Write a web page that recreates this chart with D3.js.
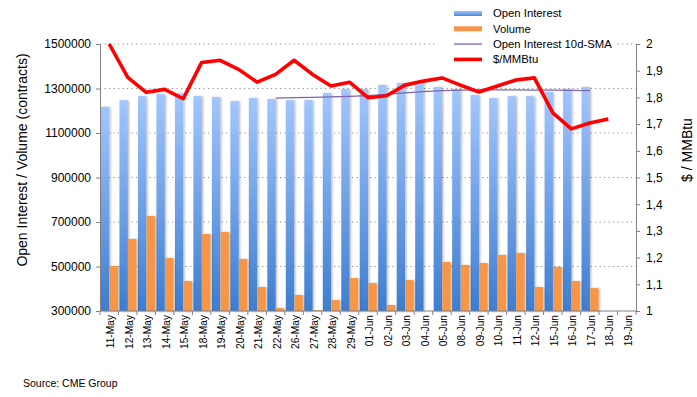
<!DOCTYPE html>
<html><head><meta charset="utf-8">
<script src="https://cdn.jsdelivr.net/npm/d3@7"></script>
<style>body{margin:0;background:#fff} svg{display:block;font-family:"Liberation Sans",Arial,sans-serif}</style>
</head><body><svg id="c" width="697" height="397"></svg>
<script>
const categories = ["11-May","12-May","13-May","14-May","15-May","18-May","19-May","20-May","21-May","22-May","26-May","27-May","28-May","29-May","01-Jun","02-Jun","03-Jun","04-Jun","05-Jun","08-Jun","09-Jun","10-Jun","11-Jun","12-Jun","15-Jun","16-Jun","17-Jun","18-Jun","19-Jun"];
const openInterest = [1218000,1247000,1266000,1275000,1278000,1266000,1262000,1244000,1257000,1253000,1248000,1248000,1280000,1298000,1298000,1316000,1325000,1329000,1307000,1298000,1271000,1257000,1266000,1266000,1284000,1298000,1307000,null,null];
const volume = [502000,624000,727000,538000,435000,646000,655000,534000,408000,313000,372000,304000,349000,448000,426000,327000,439000,null,520000,507000,516000,552000,561000,408000,498000,435000,403000,null,null];
const sma10 = [null,null,null,null,null,null,null,null,null,1257000,1259000,1260000,1262000,1265000,1268000,1274000,1280000,1286000,1290000,1293000,1294000,1294000,1294000,1293000,1293000,1292000,1290000,null,null];
const price = [2.0,1.875,1.819,1.830,1.795,1.931,1.939,1.905,1.857,1.886,1.939,1.886,1.843,1.857,1.799,1.806,1.846,1.861,1.873,1.846,1.820,1.843,1.865,1.873,1.742,1.682,1.704,1.719,null];
const leftTicks = [300000,500000,700000,900000,1100000,1300000,1500000];
const rightTicks = [1,1.1,1.2,1.3,1.4,1.5,1.6,1.7,1.8,1.9,2];
const rightTickLabels = ["1","1,1","1,2","1,3","1,4","1,5","1,6","1,7","1,8","1,9","2"];

const svg = d3.select("#c");
const L = 100, R = 636, T = 44, B = 311;
const x = d3.scaleBand().domain(categories).range([L, R]);
const bw = x.bandwidth();
const x1 = d3.scaleBand().domain(["oi","vol"]).range([1, bw - 0.5]).paddingInner(0.04);
const yL = d3.scaleLinear().domain([300000, 1500000]).range([B, T]);
const yR = d3.scaleLinear().domain([1, 2]).range([B, T]);

const defs = svg.append("defs");
const g1 = defs.append("linearGradient").attr("id","blueG").attr("x1",0).attr("y1",0).attr("x2",0).attr("y2",1);
g1.append("stop").attr("offset","0%").attr("stop-color","#a2c6fd");
g1.append("stop").attr("offset","100%").attr("stop-color","#3d7dd0");
const g2 = defs.append("linearGradient").attr("id","blueH").attr("x1",0).attr("y1",0).attr("x2",0).attr("y2",1);
g2.append("stop").attr("offset","0%").attr("stop-color","#a2c6fd");
g2.append("stop").attr("offset","100%").attr("stop-color","#4a86d6");
const f = defs.append("filter").attr("id","sh").attr("x","-20%").attr("y","-5%").attr("width","160%").attr("height","110%");
f.append("feDropShadow").attr("dx",1.2).attr("dy",0.5).attr("stdDeviation",0.8).attr("flood-color","#000").attr("flood-opacity",0.3);

// grid
svg.append("g").selectAll("line").data(leftTicks.filter(d => d > 300000)).join("line")
  .attr("x1", L).attr("x2", R).attr("y1", d => yL(d)).attr("y2", d => yL(d))
  .attr("stroke", "#8c8c8c").attr("stroke-width", 1).attr("stroke-dasharray", "1.2,3.3");

// bars
const bars = svg.append("g");
bars.selectAll("rect.oi").data(categories.map((c,i) => ({c, v: openInterest[i]})).filter(d => d.v != null)).join("rect")
  .attr("x", d => x(d.c) + x1("oi")).attr("width", x1.bandwidth())
  .attr("y", d => yL(d.v)).attr("height", d => B - yL(d.v))
  .attr("fill", "url(#blueG)").attr("filter", "url(#sh)");
bars.selectAll("rect.vol").data(categories.map((c,i) => ({c, v: volume[i]})).filter(d => d.v != null)).join("rect")
  .attr("x", d => x(d.c) + x1("vol")).attr("width", x1.bandwidth())
  .attr("y", d => yL(d.v)).attr("height", d => B - yL(d.v))
  .attr("fill", "#f79646").attr("filter", "url(#sh)");

// SMA line
const smaLine = d3.line().defined(d => d.v != null).x(d => x(d.c) + bw/2).y(d => yL(d.v));
svg.append("path").datum(categories.map((c,i) => ({c, v: sma10[i]})))
  .attr("d", smaLine).attr("fill","none").attr("stroke","#7d63b0").attr("stroke-width",1.3);

// price line
const pLine = d3.line().defined(d => d.v != null).x(d => x(d.c) + bw/2).y(d => yR(d.v));
svg.append("path").datum(categories.map((c,i) => ({c, v: price[i]})))
  .attr("d", pLine).attr("fill","none").attr("stroke","#ff0000").attr("stroke-width",3.6).attr("stroke-linejoin","round");

// left axis
const ax = svg.append("g").attr("transform", `translate(${L},0)`)
  .call(d3.axisLeft(yL).tickValues(leftTicks).tickSize(4).tickSizeOuter(0).tickPadding(5).tickFormat(d3.format("d")));
ax.select(".domain").attr("stroke","#808080");
ax.selectAll(".tick line").attr("stroke","#808080");
ax.selectAll("text").attr("font-size","12px").attr("fill","#000").attr("font-family","Liberation Sans, Arial, sans-serif");

// right axis
const ar = svg.append("g").attr("transform", `translate(${R},0)`)
  .call(d3.axisRight(yR).tickValues(rightTicks).tickSize(4).tickSizeOuter(0).tickPadding(6).tickFormat((d,i) => rightTickLabels[i]));
ar.select(".domain").attr("stroke","#808080");
ar.selectAll(".tick line").attr("stroke","#808080");
ar.selectAll("text").attr("font-size","12px").attr("fill","#000").attr("font-family","Liberation Sans, Arial, sans-serif");

// bottom axis
const bx = svg.append("g");
bx.append("line").attr("x1", L).attr("x2", R).attr("y1", B).attr("y2", B).attr("stroke","#808080");
bx.selectAll("line.t").data(categories.concat(["_end"])).join("line")
  .attr("x1", d => d === "_end" ? R : x(d)).attr("x2", d => d === "_end" ? R : x(d))
  .attr("y1", B).attr("y2", B + 4).attr("stroke","#808080");
bx.selectAll("text").data(categories).join("text")
  .attr("transform", d => `translate(${x(d) + bw/2 + 1.5},${B + 4}) rotate(-90)`)
  .attr("text-anchor","end").attr("dy","0.35em").attr("font-size","10.2px").attr("fill","#000")
  .text(d => d);

// axis titles
svg.append("text").attr("transform","translate(27,160) rotate(-90)").attr("text-anchor","middle")
  .attr("font-size","14px").attr("fill","#000").text("Open Interest / Volume (contracts)");
svg.append("text").attr("transform","translate(692,150) rotate(-90)").attr("text-anchor","middle")
  .attr("font-size","14px").attr("fill","#000").text("$ / MMBtu");

// legend
const leg = svg.append("g");
leg.append("rect").attr("x",437).attr("y",0).attr("width",178).attr("height",70).attr("fill","#fff");
const items = [
  {t:"Open Interest", k:"oi"},
  {t:"Volume", k:"vol"},
  {t:"Open Interest 10d-SMA", k:"sma"},
  {t:"$/MMBtu", k:"p"}
];
items.forEach((it,i) => {
  const cy = 13.5 + i * 15.3;
  if (it.k === "oi") leg.append("rect").attr("x",454).attr("y",cy-2.5).attr("width",28).attr("height",5).attr("fill","url(#blueH)");
  else if (it.k === "vol") leg.append("rect").attr("x",454).attr("y",cy-2.5).attr("width",28).attr("height",5).attr("fill","#f79646");
  else if (it.k === "sma") leg.append("line").attr("x1",454).attr("x2",482).attr("y1",cy).attr("y2",cy).attr("stroke","#7d63b0").attr("stroke-width",1.3);
  else leg.append("line").attr("x1",454).attr("x2",482).attr("y1",cy).attr("y2",cy).attr("stroke","#ff0000").attr("stroke-width",3.6);
  leg.append("text").attr("x",493).attr("y",cy).attr("dy","0.35em").attr("font-size","11.3px").attr("fill","#000").text(it.t);
});

// source
svg.append("text").attr("x",23).attr("y",383).attr("dy","0.35em").attr("font-size","10.5px").attr("fill","#000").text("Source: CME Group");
</script></body></html>
